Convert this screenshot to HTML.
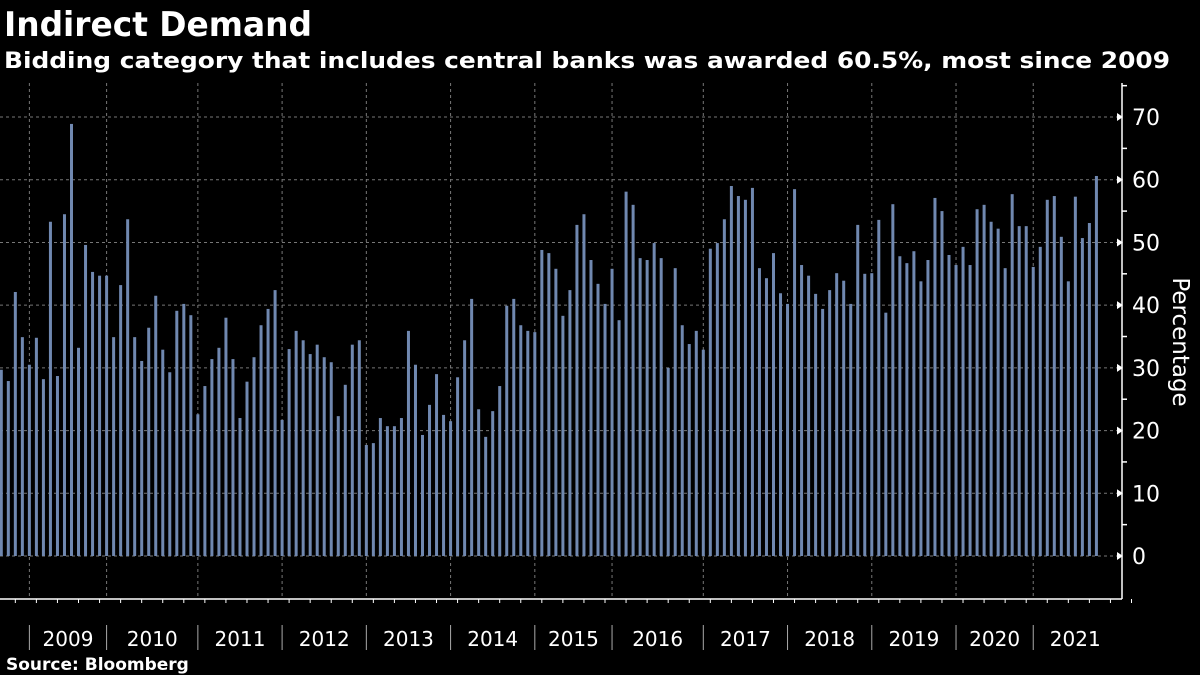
<!DOCTYPE html>
<html><head><meta charset="utf-8"><style>
html,body{margin:0;padding:0;background:#000;}
svg{display:block;}
text{font-family:"DejaVu Sans","Liberation Sans",sans-serif;fill:#fff;}
</style></head><body>
<svg id="chart" width="1200" height="675" viewBox="0 0 1200 675" xmlns="http://www.w3.org/2000/svg">
<rect width="1200" height="675" fill="#000"/>
<text x="4" y="36" font-size="34" font-weight="bold" textLength="308" lengthAdjust="spacingAndGlyphs">Indirect Demand</text>
<text x="4" y="68" font-size="22" font-weight="bold" textLength="1166" lengthAdjust="spacingAndGlyphs">Bidding category that includes central banks was awarded 60.5%, most since 2009</text>
<g id="grid"></g>
<g id="bars"></g>
<g id="yaxis"></g>
<g id="xaxis"></g>
<text transform="translate(1173,342) rotate(90)" text-anchor="middle" font-size="23">Percentage</text>
<text x="6" y="670" font-size="17" font-weight="bold">Source: Bloomberg</text>
</svg>
<script>
const values = [29.7,27.9,42.1,34.9,30.5,34.8,28.2,53.3,28.7,54.5,68.9,33.2,49.6,45.3,44.7,44.7,34.9,43.2,53.7,34.9,31.1,36.4,41.5,32.9,29.3,39.1,40.2,
38.4,22.6,27.1,31.4,33.2,38.0,31.4,22.0,27.8,31.7,36.8,39.4,42.4,21.7,33.0,35.9,34.4,32.2,33.7,31.7,30.9,22.3,27.3,33.7,34.4,17.7,
18.0,22.0,20.7,20.7,22.0,35.9,30.5,19.3,24.1,29.0,22.5,21.5,28.5,34.4,41.0,23.4,19.0,23.1,27.1,39.9,41.0,36.8,35.9,35.7,48.8,48.3,
45.8,38.3,42.4,52.8,54.5,47.2,43.4,40.2,45.8,37.6,58.1,56.0,47.5,47.2,49.9,47.5,30.0,45.9,36.8,33.8,35.9,32.9,49.0,49.9,53.7,59.0,57.4,
56.8,58.7,45.9,44.3,48.3,41.9,40.2,58.5,46.4,44.7,41.8,39.4,42.4,45.1,43.9,40.2,52.8,45.0,45.1,53.6,38.8,56.1,47.8,46.7,48.6,43.8,
47.2,57.1,55.0,48.0,46.4,49.3,46.4,55.3,56.0,53.3,52.2,45.9,57.7,52.6,52.6,46.1,49.3,56.8,57.4,50.9,43.8,57.3,50.7,53.1,60.6];
const yTicks = [0,10,20,30,40,50,60,70];
const years = ["2009","2010","2011","2012","2013","2014","2015","2016","2017","2018","2019","2020","2021"];
const yearStartIdx = [4,15,28,40,52,64,76,87,100,112,124,136,147];
const NS="http://www.w3.org/2000/svg";
const y0=556, pxPer=6.271, x0=1.3, step=7.02, axisX=1122, axisY=599;
const yS=v=>y0-v*pxPer;
const xS=i=>x0+i*step;
function mk(tag,attrs,parent){const e=document.createElementNS(NS,tag);for(const k in attrs)e.setAttribute(k,attrs[k]);parent.appendChild(e);return e;}
const grid=document.getElementById('grid'),bars=document.getElementById('bars'),ya=document.getElementById('yaxis'),xa=document.getElementById('xaxis');
yTicks.forEach(t=>{
  const y=yS(t);
  const l=mk('line',{x1:0,x2:axisX,y1:y,y2:y,stroke:'#777','stroke-dasharray':'3,3','stroke-width':1},grid);
  
  
  const tr=mk('path',{d:`M${axisX-5},${y-4}L${axisX+1},${y}L${axisX-5},${y+4}Z`,fill:'#fff'},ya);
  
  
  const tx=mk('text',{x:1132,y:y+8,'font-size':22},ya);
  tx.textContent=t;
  
  
});
for(let v=5;v<=75;v+=10){
  const y=yS(v);
  const m=mk('line',{x1:axisX,x2:axisX+5,y1:y,y2:y,stroke:'#fff','stroke-width':1.5},ya);
  
  
}
const al=mk('line',{x1:axisX,x2:axisX,y1:83,y2:axisY,stroke:'#fff','stroke-width':1.5},ya);


values.forEach((v,i)=>{
  const r=mk('rect',{x:xS(i)-1.5,y:yS(v),width:3,height:y0-yS(v),fill:'#7088b0'},bars);
  
  
});
const bl=mk('line',{x1:0,x2:axisX,y1:axisY,y2:axisY,stroke:'#fff','stroke-width':1.5},xa);


for(let i=1;i<values.length+6;i+=3){
  const t=mk('line',{x1:xS(i)+7,x2:xS(i)+7,y1:axisY,y2:axisY+4,stroke:'#fff','stroke-width':1},xa);
  
  
}
yearStartIdx.forEach((idx,k)=>{
  const x=xS(idx);
  const g=mk('line',{x1:x,x2:x,y1:83,y2:axisY,stroke:'#777','stroke-dasharray':'3,3','stroke-width':1},grid);
  
  
  const s=mk('line',{x1:x,x2:x,y1:625,y2:650,stroke:'#aaa','stroke-width':1},xa);
  
  
  const nx=k<yearStartIdx.length-1?xS(yearStartIdx[k+1]):x+84;
  const tx=mk('text',{x:(x+nx)/2,y:646,'font-size':20,'text-anchor':'middle'},xa);
  tx.textContent=years[k];
  
  
});
</script>
</body></html>
